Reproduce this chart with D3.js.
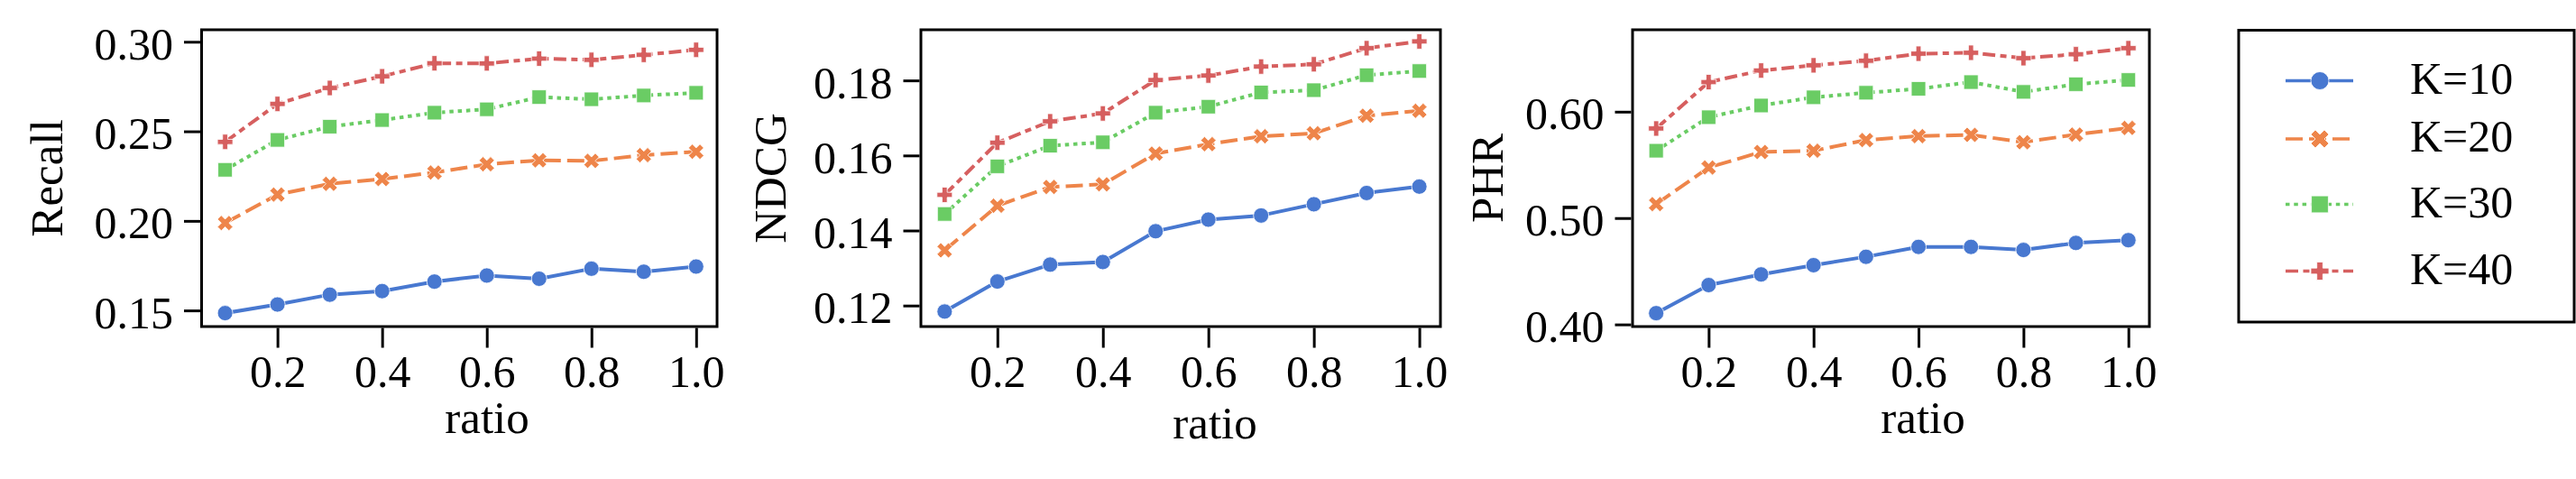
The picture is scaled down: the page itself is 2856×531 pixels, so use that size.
<!DOCTYPE html>
<html>
<head>
<meta charset="utf-8">
<script src="https://cdn.jsdelivr.net/npm/d3@7"></script>
<style>
  html, body { margin: 0; padding: 0; background: #fff; }
  svg { display: block; }
  text { font-family: "Liberation Serif", "Times New Roman", serif; fill: #000; }
</style>
</head>
<body>
<svg id="chart" width="2856" height="531"></svg>
<script>
// ---------------- data ----------------
const ratios = [0.1, 0.2, 0.3, 0.4, 0.5, 0.6, 0.7, 0.8, 0.9, 1.0];
const seriesNames = ["K=10", "K=20", "K=30", "K=40"];
const xTickValues = [0.2, 0.4, 0.6, 0.8, 1.0];

const recallK10 = [0.1485, 0.1533, 0.1588, 0.1608, 0.1661, 0.1695, 0.1677, 0.1733, 0.1716, 0.1745];
const recallK20 = [0.1988, 0.2147, 0.2207, 0.2234, 0.2270, 0.2316, 0.2338, 0.2335, 0.2367, 0.2386];
const recallK30 = [0.2285, 0.2452, 0.2526, 0.2563, 0.2604, 0.2623, 0.2691, 0.2679, 0.2700, 0.2715];
const recallK40 = [0.2441, 0.2653, 0.2742, 0.2807, 0.2880, 0.2879, 0.2906, 0.2899, 0.2927, 0.2955];
const recallTicks = [0.15, 0.20, 0.25, 0.30];

const ndcgK10 = [0.1184, 0.1264, 0.1309, 0.1316, 0.1398, 0.1429, 0.1440, 0.1470, 0.1500, 0.1517];
const ndcgK20 = [0.1347, 0.1466, 0.1516, 0.1523, 0.1605, 0.1630, 0.1651, 0.1659, 0.1706, 0.1719];
const ndcgK30 = [0.1444, 0.1571, 0.1626, 0.1635, 0.1714, 0.1730, 0.1768, 0.1774, 0.1814, 0.1825];
const ndcgK40 = [0.1495, 0.1634, 0.1691, 0.1712, 0.1801, 0.1813, 0.1837, 0.1843, 0.1886, 0.1904];
const ndcgTicks = [0.12, 0.14, 0.16, 0.18];

const phrK10 = [0.4106, 0.4370, 0.4470, 0.4557, 0.4636, 0.4729, 0.4729, 0.4700, 0.4766, 0.4792];
const phrK20 = [0.5131, 0.5475, 0.5621, 0.5633, 0.5733, 0.5770, 0.5782, 0.5713, 0.5785, 0.5847];
const phrK30 = [0.5633, 0.5948, 0.6058, 0.6135, 0.6178, 0.6215, 0.6278, 0.6186, 0.6258, 0.6298];
const phrK40 = [0.5842, 0.6278, 0.6387, 0.6436, 0.6479, 0.6545, 0.6554, 0.6503, 0.6540, 0.6597];
const phrTicks = [0.40, 0.50, 0.60];

// ---------------- styles ----------------
const colors = ["#4878d0", "#ee854a", "#6acc64", "#d65f5f"];
const dashes = ["none", "19,7", "4.5,4.8", "14,5.5,7,5.5"];
const markerTypes = ["circle", "x", "square", "plus"];
const FONT = '"Liberation Serif", "Times New Roman", serif';

const panels = [
  { label: "Recall", series: [recallK10, recallK20, recallK30, recallK40], ticks: recallTicks, fmt: ".2f",
    yDomain: [0.141, 0.3067], left: 223.5, right: 795, ylabelX: 69, xlabelX: 540, xlabelY: 480 },
  { label: "NDCG", series: [ndcgK10, ndcgK20, ndcgK30, ndcgK40], ticks: ndcgTicks, fmt: ".2f",
    yDomain: [0.1144, 0.1935], left: 1021, right: 1597, ylabelX: 871, xlabelX: 1347, xlabelY: 486 },
  { label: "PHR", series: [phrK10, phrK20, phrK30, phrK40], ticks: phrTicks, fmt: ".2f",
    yDomain: [0.398, 0.677], left: 1810, right: 2383, ylabelX: 1666, xlabelX: 2132, xlabelY: 480 }
];
const plotTop = 33, plotBottom = 362;
const xDomain = [0.055, 1.04];

function markerPath(type, s) {
  let pts;
  if (type === "circle") {
    const r = s / 2;
    return `M${-r},0A${r},${r} 0 1,0 ${r},0A${r},${r} 0 1,0 ${-r},0Z`;
  }
  if (type === "square") {
    const h = s * 0.47;
    return `M${-h},${-h}L${h},${-h}L${h},${h}L${-h},${h}Z`;
  }
  if (type === "x") {
    pts = [[-1,-2],[0,-1],[1,-2],[2,-1],[1,0],[2,1],[1,2],[0,1],[-1,2],[-2,1],[-1,0],[-2,-1]].map(p => [p[0]*s/4, p[1]*s/4]);
  } else {
    pts = [[-1,-3],[-1,-1],[-3,-1],[-3,1],[-1,1],[-1,3],[1,3],[1,1],[3,1],[3,-1],[1,-1],[1,-3]].map(p => [p[0]*s/6, p[1]*s/6]);
  }
  return "M" + pts.map(p => p.join(",")).join("L") + "Z";
}

const svg = d3.select("#chart");
const FS = 50;

panels.forEach(p => {
  const x = d3.scaleLinear().domain(xDomain).range([p.left, p.right]);
  const y = d3.scaleLinear().domain(p.yDomain).range([plotBottom, plotTop]);
  const g = svg.append("g");

  // series
  p.series.forEach((vals, si) => {
    const data = ratios.map((r, i) => ({ r, v: vals[i] }));
    const line = d3.line().x(d => x(d.r)).y(d => y(d.v));
    g.append("path").datum(data)
      .attr("d", line)
      .attr("fill", "none")
      .attr("stroke", colors[si])
      .attr("stroke-width", 4)
      .attr("stroke-dasharray", dashes[si])
      .attr("stroke-linejoin", "round");
    g.selectAll(null).data(data).enter().append("path")
      .attr("transform", d => `translate(${x(d.r)},${y(d.v)})`)
      .attr("d", markerPath(markerTypes[si], 17))
      .attr("fill", colors[si])
      .attr("stroke", "#fff")
      .attr("stroke-width", 0.8);
  });

  // frame
  g.append("rect")
    .attr("x", p.left).attr("y", plotTop)
    .attr("width", p.right - p.left).attr("height", plotBottom - plotTop)
    .attr("fill", "none").attr("stroke", "#000").attr("stroke-width", 3);

  // x axis
  const xa = g.append("g")
    .attr("transform", `translate(0,${plotBottom + 1.5})`)
    .call(d3.axisBottom(x).tickValues(xTickValues).tickSize(22).tickPadding(8).tickFormat(d3.format(".1f")));
  xa.select(".domain").remove();
  xa.selectAll(".tick line").attr("stroke", "#000").attr("stroke-width", 3);
  xa.selectAll(".tick text").attr("font-size", FS).attr("fill", "#000").style("font-family", FONT);

  // y axis
  const ya = g.append("g")
    .attr("transform", `translate(${p.left - 1.5},0)`)
    .call(d3.axisLeft(y).tickValues(p.ticks).tickSize(18).tickPadding(12).tickFormat(d3.format(p.fmt)));
  ya.select(".domain").remove();
  ya.selectAll(".tick line").attr("stroke", "#000").attr("stroke-width", 3);
  ya.selectAll(".tick text").attr("font-size", FS).attr("fill", "#000").attr("dy", "0.38em").style("font-family", FONT);

  // labels
  g.append("text")
    .attr("transform", `translate(${p.ylabelX},${(plotTop + plotBottom) / 2}) rotate(-90)`)
    .attr("text-anchor", "middle")
    .attr("font-size", 51)
    .style("font-family", FONT)
    .text(p.label);
  g.append("text")
    .attr("x", p.xlabelX).attr("y", p.xlabelY)
    .attr("text-anchor", "middle")
    .attr("font-size", 51)
    .style("font-family", FONT)
    .text("ratio");
});

// legend
const lg = svg.append("g");
lg.append("rect")
  .attr("x", 2482).attr("y", 33.5).attr("width", 372).attr("height", 323.5)
  .attr("fill", "#fff").attr("stroke", "#000").attr("stroke-width", 3);
const rowY = [89.5, 154, 226.5, 300.5];
seriesNames.forEach((name, si) => {
  const yy = rowY[si];
  lg.append("line")
    .attr("x1", 2534).attr("x2", 2609).attr("y1", yy).attr("y2", yy)
    .attr("stroke", colors[si]).attr("stroke-width", 3.5)
    .attr("stroke-dasharray", dashes[si]);
  lg.append("path")
    .attr("transform", `translate(2572,${yy})`)
    .attr("d", markerPath(markerTypes[si], 20))
    .attr("fill", colors[si]).attr("stroke", "#fff").attr("stroke-width", 0.8);
  lg.append("text")
    .attr("x", 2672).attr("y", yy + 14)
    .attr("font-size", FS)
    .style("font-family", FONT)
    .text(name);
});
</script>
</body>
</html>
